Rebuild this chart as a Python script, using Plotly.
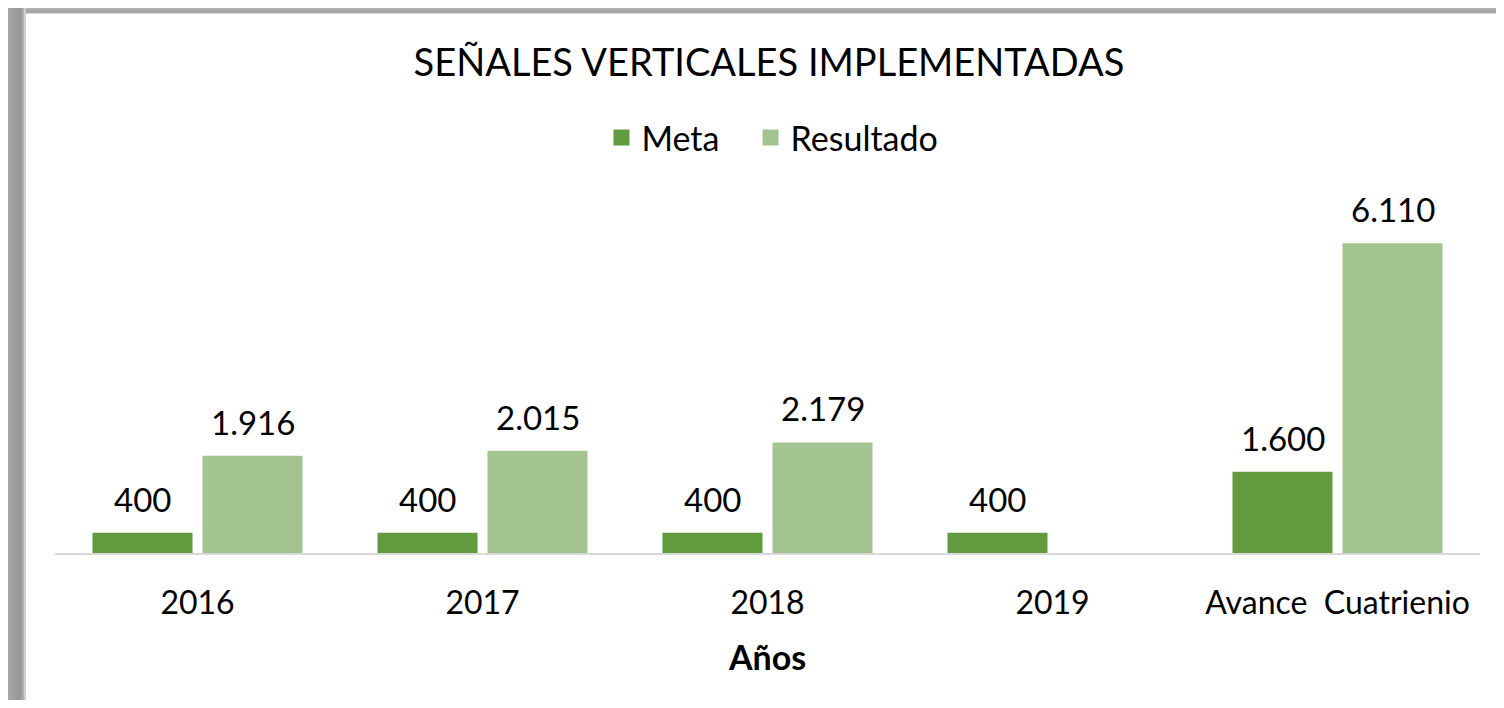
import plotly.graph_objects as go

categories = ["2016", "2017", "2018", "2019", "Avance\u00a0\u00a0Cuatrienio"]
meta = [400, 400, 400, 400, 1600]
resultado = [1916, 2015, 2179, None, 6110]
legend_names = ["Meta", "Resultado"]

COL_META = "#629A3E"
COL_RES = "#A3C490"
FONT = "Lato"

# the page body adds an 8px margin, so the figure is drawn 8px smaller
W, H = 1488, 692
ML, MR, MT, MB = 47, 16, 190, 147
PW, PH = W - ML - MR, H - MT - MB

fig = go.Figure()
fig.add_trace(go.Bar(name="Meta", x=categories, y=meta, marker_color=COL_META,
                     marker_line_width=0, showlegend=False))
fig.add_trace(go.Bar(name="Resultado", x=categories, y=resultado, marker_color=COL_RES,
                     marker_line_width=0, showlegend=False))
# legend entries with larger square swatches
for name, col, pad in ((legend_names[0], COL_META, "\u00a0\u00a0\u00a0"),
                       (legend_names[1], COL_RES, "")):
    fig.add_trace(go.Scatter(name=name + pad, x=[None], y=[None], mode="markers",
                             marker=dict(symbol="square", size=20, color=col),
                             showlegend=True, hoverinfo="skip"))

def fmt(v):
    return f"{v:,}".replace(",", ".")

# data labels: category index on the category axis, value on the y axis
for vals, shift in ((meta, -55), (resultado, 55)):
    for i, v in enumerate(vals):
        if v is None:
            continue
        fig.add_annotation(x=i, y=v, xref="x", yref="y", text=fmt(v), showarrow=False,
                           xshift=shift, yshift=12, yanchor="bottom",
                           font=dict(family=FONT, size=33, color="#000000"))

# shadow / frame decoration (figure pixel -> paper)
def px(x):
    return (x - ML) / PW

def py(y):
    return (H - MB - y) / PH

shapes = []
left_cols = ["#a6a6a6", "#a2a2a2", "#9f9f9f", "#9c9c9c", "#9a9a9a", "#999999",
             "#9a9a9a", "#b0b0b0", "#cfcfcf"]
for i, c in enumerate(left_cols):
    x0 = i * 2
    shapes.append(dict(type="rect", xref="paper", yref="paper", x0=px(x0), x1=px(x0 + 2),
                       y0=py(H), y1=py(0), fillcolor=c, line_width=0, layer="below"))
top_cols = ["#b4b4b4", "#acacac", "#a7a7a7", "#a5a5a5", "#a8a8a8", "#d6d6d6"]
for i, c in enumerate(top_cols):
    shapes.append(dict(type="rect", xref="paper", yref="paper", x0=px(18), x1=px(W),
                       y0=py(i + 1), y1=py(i), fillcolor=c, line_width=0, layer="below"))

fig.update_layout(
    width=W, height=H,
    margin=dict(l=ML, r=MR, t=MT, b=MB),
    paper_bgcolor="white", plot_bgcolor="white",
    separators=",.",
    barmode="group", bargap=0.228, bargroupgap=0.0909,
    title=dict(text="SEÑALES VERTICALES IMPLEMENTADAS", x=0.5114, xanchor="center",
               y=1 - 55 / H, yanchor="middle", yref="container",
               font=dict(family=FONT, size=38, color="#000000")),
    legend=dict(orientation="h", x=0.5035, xanchor="center", y=py(130), yanchor="middle",
                font=dict(family=FONT, size=34, color="#000000"), itemwidth=30,
                traceorder="normal", bgcolor="rgba(0,0,0,0)"),
    showlegend=True,
    shapes=shapes,
    xaxis=dict(type="category", range=[-0.5, len(categories) - 0.5],
               showline=True, linecolor="#D9D9D9", linewidth=2,
               showgrid=False, ticks="", ticklabelstandoff=21,
               tickfont=dict(family=FONT, size=32, color="#000000"),
               title=dict(text="<b>Años</b>", standoff=26,
                          font=dict(family=FONT, size=34, color="#000000"))),
    yaxis=dict(range=[0, 7000], visible=False, showgrid=False, zeroline=False),
)

fig.write_html("out.html")
